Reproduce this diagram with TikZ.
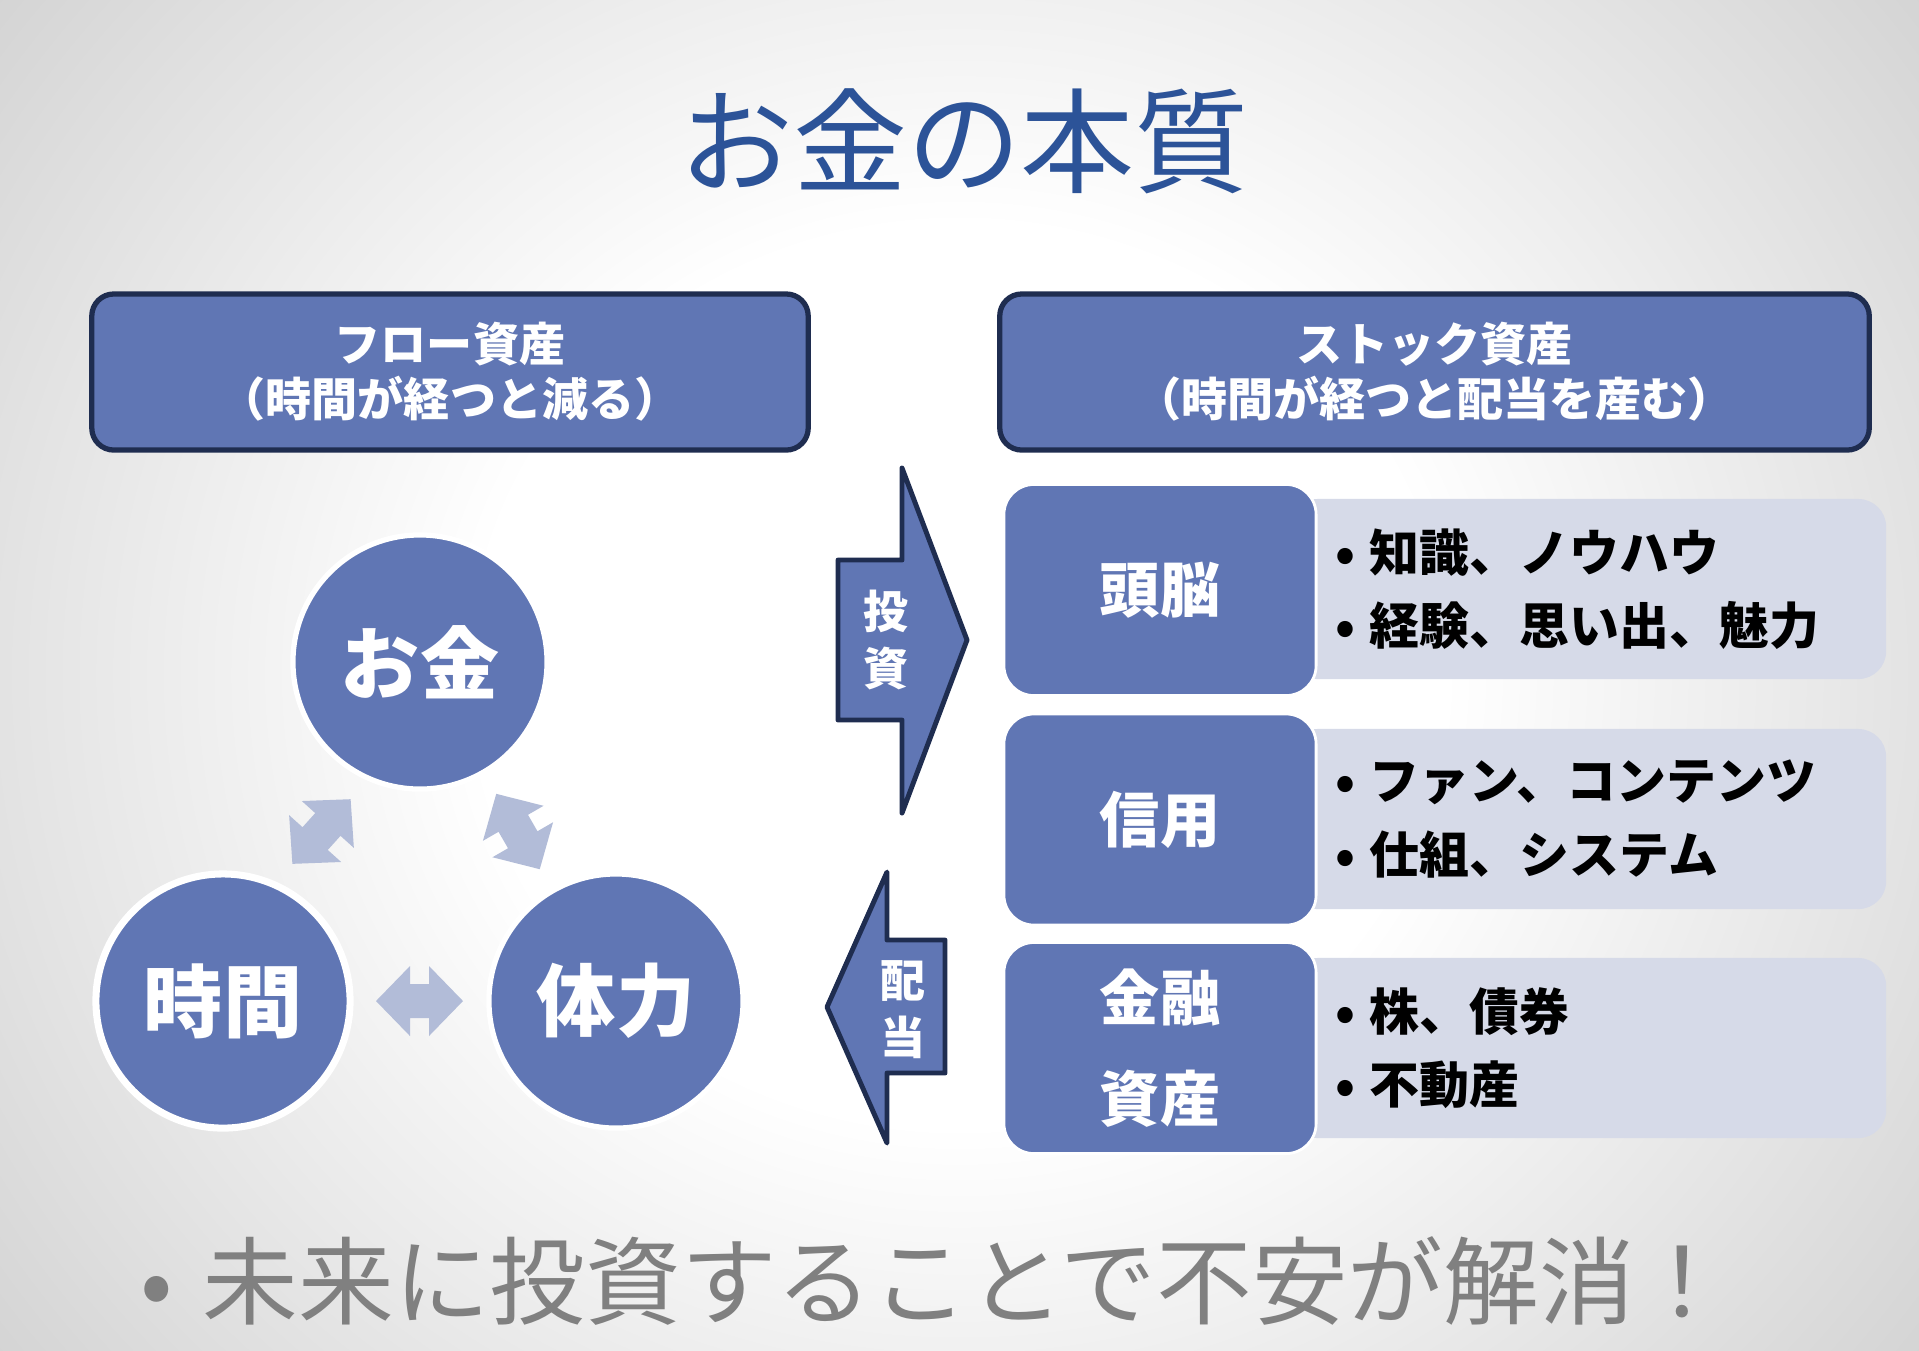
\documentclass[tikz,border=0pt]{standalone}
\usepackage{fontspec}
\setmainfont{Noto Sans CJK JP}
\usetikzlibrary{calc,positioning}

\definecolor{kiblue}{RGB}{96,118,180}
\definecolor{kinavy}{RGB}{31,45,80}
\definecolor{kilite}{RGB}{214,218,232}
\definecolor{kiarrow}{RGB}{178,188,216}
\definecolor{kititle}{RGB}{44,83,152}
\definecolor{kigray}{RGB}{128,128,128}
\definecolor{bgedge}{RGB}{212,212,212}

\pgfdeclareradialshading{slidebg}{\pgfpoint{0bp}{0bp}}{color(0bp)=(white); color(10bp)=(white); color(25bp)=(bgedge); color(50bp)=(bgedge)}

\newcommand{\pt}{\hspace{0.14cm}}

\tikzset{
  hdrbox/.style={draw=kinavy, line width=1.5pt, fill=kiblue, rounded corners=0.22cm,
    minimum height=1.56cm, text=white, align=center,
    font=\bfseries\fontsize{13.1}{15.6}\selectfont},
  maru/.style={circle, fill=kiblue, draw=white, line width=1.5pt, minimum size=2.54cm,
    inner sep=0pt, text=white, font=\bfseries\fontsize{22.5}{26}\selectfont},
  catbox/.style={fill=kiblue, draw=white, line width=0.8pt, rounded corners=0.3cm,
    minimum width=3.12cm, minimum height=2.11cm, text=white, align=center,
    font=\bfseries\fontsize{17.1}{28.7}\selectfont},
  litebox/.style={fill=kilite, rounded corners=0.28cm, text width=5.04cm, inner xsep=0.46cm,
    minimum height=1.8cm, align=left, font=\bfseries\fontsize{14.2}{20.8}\selectfont},
  arrtxt/.style={text=white, align=center, font=\bfseries\fontsize{12.8}{16.2}\selectfont},
  blockarrow/.style={fill=kiblue, draw=kinavy, line width=1.4pt, line join=round},
  titletxt/.style={text=kititle, font=\fontsize{32.4}{36}\selectfont},
  dblarrow/.pic={
    \fill[kiarrow] (-43.5,0) -- (-9.5,-35) -- (-9.5,-17) -- (9.5,-17) -- (9.5,-35)
      -- (43.5,0) -- (9.5,35) -- (9.5,17) -- (-9.5,17) -- (-9.5,35) -- cycle;}
}

\begin{document}
\begin{tikzpicture}[x=0.01cm, y=-0.01cm]
  \useasboundingbox (0,0) rectangle (1919,1350);
  % 背景
  \begin{scope}
    \clip (0,0) rectangle (1919,1350);
    \shade[shading=slidebg] (-250,-450) rectangle (2169,1800);
  \end{scope}
  % タイトル
  \node[titletxt] (title) at (964,141) {お金の本質};
  % 見出し
  \node[hdrbox, minimum width=7.16cm] (flow) at (450,372) {フロー資産\\（時間が経つと減る）};
  \node[hdrbox, minimum width=8.69cm] (stock) at (1434.5,372) {ストック資産\\（時間が経つと配当を産む）};
  % 丸
  \node[maru] (okane) at (420,662) {お金};
  \node[maru, line width=2pt] (jikan) at (223,1001) {時間};
  \node[maru] (tairyoku) at (616,1001) {体力};
  % 両矢印
  \path ($(okane)!0.5!(jikan)$) pic[rotate=48] {dblarrow};
  \path ($(okane)!0.5!(tairyoku)$) pic[rotate=-60] {dblarrow};
  \path ($(jikan)!0.5!(tairyoku)$) pic {dblarrow};
  % 投資・配当
  \draw[blockarrow] (838,560) -- (902,560) -- (902,468) -- (967,640) -- (902,813)
    -- (902,720) -- (838,720) -- cycle;
  \node[arrtxt] (toushi) at (886,640) {投\\資};
  \draw[blockarrow] (827,1007) -- (887,872) -- (887,940) -- (945,940) -- (945,1073)
    -- (887,1073) -- (887,1143) -- cycle;
  \node[arrtxt] (haitou) at (903,1010) {配\\当};
  % 中身
  \node[litebox] (zunouL) at (1588,589) {•\pt 知識、ノウハウ\\•\pt 経験、思い出、魅力};
  \node[litebox] (shinyouL) at (1588,819) {•\pt ファン、コンテンツ\\•\pt 仕組、システム};
  \node[litebox] (kinyuuL) at (1588,1048) {•\pt 株、債券\\•\pt 不動産};
  \node[catbox] (zunou) at (1160,590) {頭脳};
  \node[catbox] (shinyou) at (1160,819.5) {信用};
  \node[catbox] (kinyuu) at (1160,1048) {金融\\資産};
  % まとめ
  \node[anchor=west, text=kigray, font=\fontsize{27.2}{30}\selectfont] (matome) at (128,1281)
    {•\hspace{0.3cm}未来に投資することで不安が解消！};
\end{tikzpicture}
\end{document}
